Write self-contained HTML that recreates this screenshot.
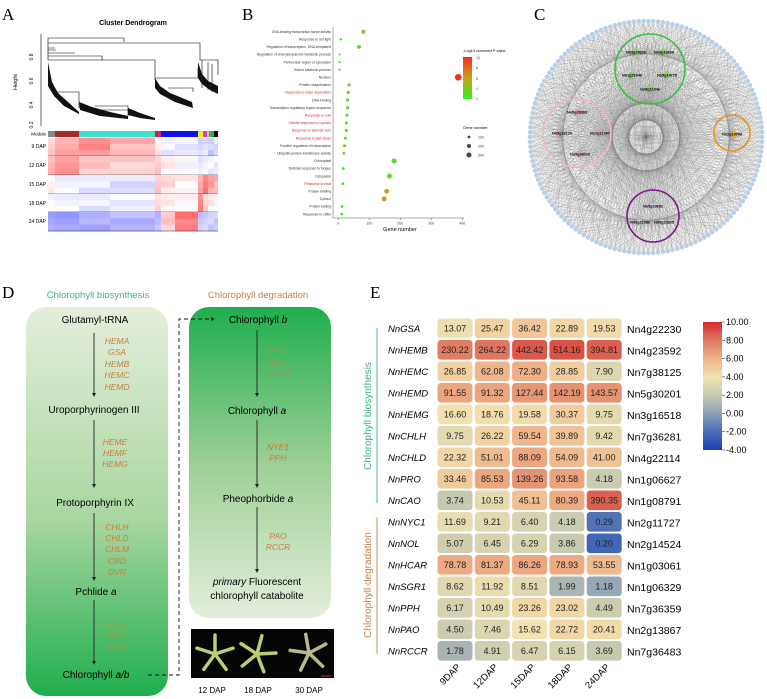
<!DOCTYPE html>
<html><head><meta charset="utf-8"><style>
html,body{margin:0;padding:0;background:#fff}
svg{display:block;font-family:"Liberation Sans",sans-serif}
</style></head><body>
<svg id="fig" width="767" height="699" viewBox="0 0 767 699">
<defs>
<linearGradient id="gL" x1="0" y1="0" x2="0" y2="1"><stop offset="0" stop-color="#e4eedb"/><stop offset="0.55" stop-color="#a8d6a0"/><stop offset="1" stop-color="#1fae4e"/></linearGradient>
<linearGradient id="gR" x1="0" y1="0" x2="0" y2="1"><stop offset="0" stop-color="#1fae4e"/><stop offset="0.5" stop-color="#9ccf95"/><stop offset="1" stop-color="#e4eedb"/></linearGradient>
<linearGradient id="gP" x1="0" y1="0" x2="0" y2="1"><stop offset="0" stop-color="#ff2a1a"/><stop offset="0.5" stop-color="#c8a020"/><stop offset="1" stop-color="#30f020"/></linearGradient>
<linearGradient id="gE" x1="0" y1="0" x2="0" y2="1"><stop offset="0" stop-color="#d42a2a"/><stop offset="0.14" stop-color="#e07860"/><stop offset="0.29" stop-color="#efb48a"/><stop offset="0.43" stop-color="#f2e2b0"/><stop offset="0.57" stop-color="#c8cbb0"/><stop offset="0.71" stop-color="#8fa2b8"/><stop offset="0.86" stop-color="#4b6cb8"/><stop offset="1" stop-color="#1a3fb5"/></linearGradient>
</defs>

<!-- Panel A -->
<g>
<text x="2" y="20" font-family="Liberation Serif" font-size="17">A</text>
<text x="133" y="25" font-size="7" font-weight="bold" text-anchor="middle">Cluster Dendrogram</text>
<line x1="41" y1="34" x2="41" y2="126" stroke="#000" stroke-width="0.6"/>
<g font-size="5">
<text transform="translate(33,57) rotate(-90)" text-anchor="middle">0.8</text>
<text transform="translate(33,81) rotate(-90)" text-anchor="middle">0.6</text>
<text transform="translate(33,105) rotate(-90)" text-anchor="middle">0.4</text>
<text transform="translate(33,125) rotate(-90)" text-anchor="middle">0.2</text>
</g>
<text transform="translate(17,82) rotate(-90)" font-size="5.5" text-anchor="middle">Height</text>
<g id="dendro" stroke="#000" stroke-width="0.6" fill="none">
<path d="M48 60V38H124V42M48 43H200V47M48 48H55M48 50H56M48 53H75M48 56H102V60M48 60H155V80M200 47V60H218V75"/>
<path d="M55 92H79V100M79 100V108M95 106H128M95 110H128M128 106V116M155 78H198V68M168 88H193V92M202 60V88M208 62V90M212 64V92"/>
</g>
<g fill="#111">
<path d="M48 62 L52 82 L58 93 L68 102 L79 112 L79 114 L64 106 L54 96 L48 86Z"/>
<path d="M79 102 L92 107 L110 112 L128 116 L128 119 L100 116 L80 110Z"/>
<path d="M128 108 L140 113 L155 118 L155 120 L140 118 L128 115Z"/>
<path d="M155 78 L160 86 L170 93 L192 102 L193 108 L175 102 L160 94 L155 88Z"/>
<path d="M198 62 L202 74 L208 81 L218 86 L218 94 L210 90 L202 84 L198 78Z"/>
</g>
<text x="46" y="135.5" font-size="4.5" text-anchor="end">Module</text>
<g id="modbar"></g>
<g id="ahm"></g>
<g font-size="5" text-anchor="end">
<text x="46" y="148">9 DAP</text><text x="46" y="167">12 DAP</text><text x="46" y="186">15 DAP</text><text x="46" y="205">18 DAP</text><text x="46" y="223">24 DAP</text>
</g>
</g>

<!-- Panel B -->
<g>
<text x="242" y="20" font-family="Liberation Serif" font-size="17">B</text>
<line x1="333" y1="27" x2="333" y2="218" stroke="#555" stroke-width="0.5"/>
<line x1="333" y1="218" x2="464" y2="218" stroke="#555" stroke-width="0.5"/>
<g id="bterms" font-size="3.4" text-anchor="end"></g>
<g id="bdots"></g>
<g id="bx" font-size="3.6" text-anchor="middle" fill="#444"></g>
<text x="400" y="231" font-size="5.5" text-anchor="middle">Gene number</text>
<text x="463" y="52" font-size="3.8">-Log10 corrected <tspan font-style="italic">P</tspan>-value</text>
<rect x="463" y="57" width="9" height="42" fill="url(#gP)"/>
<g font-size="3.6" fill="#444"><text x="476" y="59">10</text><text x="476" y="69">8</text><text x="476" y="80">6</text><text x="476" y="90">4</text><text x="476" y="100">2</text></g>
<text x="463" y="129" font-size="4">Gene number</text>
<g font-size="3.6" fill="#444">
<circle cx="469" cy="137" r="1.4"/><text x="478" y="138.5">100</text>
<circle cx="469" cy="146" r="2"/><text x="478" y="147.5">200</text>
<circle cx="469" cy="155" r="2.5"/><text x="478" y="156.5">300</text>
</g>
</g>

<!-- Panel C -->
<g>
<text x="534" y="20" font-family="Liberation Serif" font-size="17">C</text>
<g id="cedges" stroke="#777" stroke-width="0.25" stroke-opacity="0.55"></g>
<g id="cnodes" fill="#b8cfe6"></g>
<circle cx="650" cy="69" r="35" fill="none" stroke="#3cc03c" stroke-width="1.6"/>
<circle cx="577" cy="133" r="34" fill="none" stroke="#f0b8c0" stroke-width="1.6"/>
<circle cx="732" cy="133" r="18" fill="none" stroke="#ee9020" stroke-width="1.6"/>
<circle cx="653" cy="216" r="26" fill="none" stroke="#801880" stroke-width="1.6"/>
<g font-size="3.8" font-weight="bold" text-anchor="middle">
<circle cx="636" cy="52" r="3" fill="#8ad060"/><text x="636" y="53.5">Nn3g20326</text>
<circle cx="663" cy="52" r="3" fill="#8ad060"/><text x="664" y="53.5">Nn3g16698</text>
<circle cx="631" cy="75" r="3" fill="#8ad060"/><text x="632" y="76.5">Nn1g21946</text>
<circle cx="667" cy="75" r="3" fill="#8ad060"/><text x="667" y="76.5">Nn5g14775</text>
<circle cx="650" cy="89" r="3" fill="#8ad060"/><text x="650" y="90.5">Nn5g11946</text>
<circle cx="578" cy="112" r="3" fill="#e89ab0"/><text x="577" y="113.5">Nn5g28383</text>
<circle cx="558" cy="133" r="3" fill="#e89ab0"/><text x="562" y="134.5">Nn5g32129</text>
<circle cx="599" cy="133" r="3" fill="#e89ab0"/><text x="600" y="134.5">Nn2g11367</text>
<circle cx="580" cy="154" r="3" fill="#e89ab0"/><text x="580" y="155.5">Nn5g36020</text>
<circle cx="734" cy="134" r="3" fill="#e8b020"/><text x="732" y="135.5">Nn2g10988</text>
<circle cx="653" cy="206" r="3" fill="#c0c8e0"/><text x="653" y="207.5">Nn5g23682</text>
<circle cx="639" cy="222" r="3" fill="#c0c8e0"/><text x="640" y="223.5">Nn3g11086</text>
<circle cx="662" cy="222" r="3" fill="#c0c8e0"/><text x="664" y="223.5">Nn5g23305</text>
</g>
</g>

<!-- Panel D -->
<g>
<text x="2" y="298" font-family="Liberation Serif" font-size="17">D</text>
<text x="98" y="298" font-size="9.5" fill="#3cb47a" text-anchor="middle">Chlorophyll biosynthesis</text>
<text x="258" y="298" font-size="9.5" fill="#c8804a" text-anchor="middle">Chlorophyll degradation</text>
<rect x="26" y="307" width="142" height="389" rx="20" fill="url(#gL)"/>
<rect x="189" y="307" width="142" height="311" rx="20" fill="url(#gR)"/>
<g font-size="10" text-anchor="middle">
<text x="95" y="323">Glutamyl-tRNA</text>
<text x="94" y="413">Uroporphyrinogen III</text>
<text x="95" y="506">Protoporphyrin IX</text>
<text x="96" y="595">Pchlide <tspan font-style="italic">a</tspan></text>
<text x="96" y="678">Chlorophyll <tspan font-style="italic">a/b</tspan></text>
<text x="258" y="323">Chlorophyll <tspan font-style="italic">b</tspan></text>
<text x="257" y="414">Chlorophyll <tspan font-style="italic">a</tspan></text>
<text x="258" y="502">Pheophorbide <tspan font-style="italic">a</tspan></text>
<text x="257" y="585"><tspan font-style="italic">primary</tspan> Fluorescent</text>
<text x="257" y="599">chlorophyll catabolite</text>
</g>
<g stroke="#222" stroke-width="0.9">
<line x1="94" y1="333" x2="94" y2="394"/><line x1="94" y1="420" x2="94" y2="485"/><line x1="94" y1="513" x2="94" y2="578"/><line x1="94" y1="600" x2="94" y2="662"/>
<line x1="257" y1="330" x2="257" y2="394"/><line x1="257" y1="420" x2="257" y2="485"/><line x1="257" y1="507" x2="257" y2="570"/>
</g>
<g fill="#222">
<path d="M92 393L96 393L94 397Z"/><path d="M92 484L96 484L94 488Z"/><path d="M92 577L96 577L94 581Z"/><path d="M92 661L96 661L94 665Z"/>
<path d="M255 393L259 393L257 397Z"/><path d="M255 484L259 484L257 488Z"/><path d="M255 569L259 569L257 573Z"/>
<path d="M211 317L215 319L211 321Z"/>
</g>
<path d="M148 675H179V319H211" fill="none" stroke="#111" stroke-width="0.9" stroke-dasharray="4,3"/>
<g font-size="8.5" font-style="italic" fill="#c8803c" text-anchor="middle">
<text x="117" y="344">HEMA</text><text x="117" y="355">GSA</text><text x="117" y="367">HEMB</text><text x="117" y="378">HEMC</text><text x="117" y="390">HEMD</text>
<text x="115" y="445">HEME</text><text x="115" y="456">HEMF</text><text x="115" y="467">HEMG</text>
<text x="117" y="530">CHLH</text><text x="117" y="541">CHLD</text><text x="117" y="552">CHLM</text><text x="117" y="564">CRD</text><text x="117" y="575">DVR</text>
<text x="117" y="627" fill="#a8984a">POR</text><text x="117" y="638" fill="#a8984a">CHLG</text><text x="117" y="650" fill="#a8984a">CAO</text>
<text x="278" y="354" fill="#9a9850">NYC1</text><text x="278" y="365" fill="#9a9850">NOL</text><text x="278" y="376" fill="#9a9850">HCAR</text>
<text x="278" y="450">NYE1</text><text x="278" y="461">PPH</text>
<text x="278" y="539">PAO</text><text x="278" y="550">RCCR</text>
</g>
<rect x="191" y="629" width="143" height="49" fill="#050505"/>
<g id="stars"></g>
<line x1="321" y1="676" x2="331" y2="676" stroke="#e02020" stroke-width="1"/>
<g font-size="8" text-anchor="middle"><text x="212" y="693">12 DAP</text><text x="258" y="693">18 DAP</text><text x="309" y="693">30 DAP</text></g>
</g>

<!-- Panel E -->
<g>
<text x="370" y="298" font-family="Liberation Serif" font-size="17">E</text>
<line x1="377" y1="328" x2="377" y2="503" stroke="#3cb47a" stroke-width="0.9"/>
<line x1="377" y1="517" x2="377" y2="654" stroke="#c8804a" stroke-width="0.9"/>
<text transform="translate(371,416) rotate(-90)" font-size="10" fill="#3cb47a" text-anchor="middle">Chlorophyll biosynthesis</text>
<text transform="translate(371,585) rotate(-90)" font-size="10" fill="#c8804a" text-anchor="middle">Chlorophyll degradation</text>
<g id="ehm"></g>
<rect x="703" y="322" width="19" height="128" fill="url(#gE)"/>
<g id="ecb" font-size="9"></g>
</g>
</svg>

<script>
// ---------- Panel E data ----------
const genes = ["NnGSA","NnHEMB","NnHEMC","NnHEMD","NnHEMG","NnCHLH","NnCHLD","NnPRO","NnCAO","NnNYC1","NnNOL","NnHCAR","NnSGR1","NnPPH","NnPAO","NnRCCR"];
const geneIds = ["Nn4g22230","Nn4g23592","Nn7g38125","Nn5g30201","Nn3g16518","Nn7g36281","Nn4g22114","Nn1g06627","Nn1g08791","Nn2g11727","Nn2g14524","Nn1g03061","Nn1g06329","Nn7g36359","Nn2g13867","Nn7g36483"];
const stages = ["9DAP","12DAP","15DAP","18DAP","24DAP"];
const d9 = [13.07,230.22,26.85,91.55,16.60,9.75,22.32,33.46,3.74,11.69,5.07,78.78,8.62,6.17,4.50,1.78];
const d12 = [25.47,264.22,62.08,91.32,18.76,26.22,51.01,85.53,10.53,9.21,6.45,81.37,11.92,10.49,7.46,4.91];
const d15 = [36.42,442.42,72.30,127.44,19.58,59.54,88.09,139.26,45.11,6.40,6.29,86.26,8.51,23.26,15.62,6.47];
const d18 = [22.89,514.16,28.85,142.19,30.37,39.89,54.09,93.58,80.39,4.18,3.86,78.93,1.99,23.02,22.72,6.15];
const d24 = [19.53,394.81,7.90,143.57,9.75,9.42,41.00,4.18,390.35,0.29,0.20,53.55,1.18,4.49,20.41,3.69];
const cbTicks = [10,8,6,4,2,0,-2,-4];

// ---------- Panel B data ----------
const goTerms = ["DNA-binding transcription factor activity","Response to red light","Regulation of transcription, DNA-templated","Regulation of phenylpropanoid metabolic process","Perinuclear region of cytoplasm","Starch catabolic process","Nucleus","Protein ubiquitination","Response to water deprivation","DNA binding","Transcription regulatory region sequence","Response to cold","Cellular response to hypoxia","Response to abscisic acid","Response to salt stress","Positive regulation of transcription","Ubiquitin-protein transferase activity","Chloroplast","Defense response to fungus","Cytoplasm","Response to heat","Protein binding","Cytosol","Protein folding","Response to chitin"];
const goCounts = [81,8,67,4,4,4,387,35,32,30,30,28,26,26,23,20,18,180,16,165,15,156,148,12,11];
const goLogP = [3.6,2.5,3.4,2.2,2.2,2.2,10,3,3.4,3,3,3.4,3,3.2,3,2.8,2.8,3,2.6,3,2.6,6,6.4,2.6,2.6];
const goRed = [8,11,12,13,14,20];
const xTicks = [0,100,200,300,400];

const NS="http://www.w3.org/2000/svg";
function mk(tag, attrs, parent){const e=document.createElementNS(NS,tag);for(const k in attrs)e.setAttribute(k,attrs[k]);parent.appendChild(e);return e;}

// Panel E
const ex = i => 455 + i*37.3;
const ey = j => 328.3 + j*21.5;
const stops=[[-4,[26,63,181]],[-2,[75,108,184]],[0,[143,162,184]],[2,[200,203,176]],[4,[242,226,176]],[6,[239,180,138]],[8,[224,120,96]],[10,[212,42,42]]];
function ecol(v){let l=Math.log2(v);l=Math.max(-4,Math.min(10,l));for(let k=0;k<stops.length-1;k++){const a=stops[k],b=stops[k+1];if(l<=b[0]){const t=(l-a[0])/(b[0]-a[0]);const c=a[1].map((x,n)=>Math.round(x+(b[1][n]-x)*t));return "rgb("+c.join(",")+")";}}return "rgb(212,42,42)";}
const ehm=document.getElementById('ehm');
const cols=[d9,d12,d15,d18,d24];
genes.forEach((g,j)=>{
  const t=mk('text',{x:388,y:ey(j)+3.5,'font-size':9.5,'font-style':'italic'},ehm);
  
  
  t.textContent=g;
  const t2=mk('text',{x:627,y:ey(j)+4.5,'font-size':10.5},ehm);
  
  
  t2.textContent=geneIds[j];
  cols.forEach((arr,i)=>{
    const r=mk('rect',{x:ex(i)-17.5,y:ey(j)-9.8,width:35,height:19.6,rx:3.5,fill:ecol(arr[j])},ehm);
    
    
    const v=mk('text',{x:ex(i),y:ey(j)+3.3,'font-size':9,'text-anchor':'middle',fill:'#222'},ehm);
    
    
    v.textContent=arr[j].toFixed(2);
  });
});
stages.forEach((s,i)=>{
  const t=mk('text',{transform:"translate("+(ex(i)+6)+","+(ey(15)+17)+") rotate(-45)",'font-size':9.5,'text-anchor':'end'},ehm);
  
  
  t.textContent=s;
});
const ecb=document.getElementById('ecb');
cbTicks.forEach(v=>{
  const y=322+(10-v)/14*128;
  const l=mk('line',{x1:722,x2:725,y1:y,y2:y,stroke:'#333','stroke-width':0.6},ecb);
  
  
  const t=mk('text',{x:726,y:y+3},ecb);
  
  
  t.textContent=v.toFixed(2);
});

// Panel B
const bx = v => 338.3 + v*0.31;
const by = j => 31.7 + j*7.6;
const bterms=document.getElementById('bterms'), bdots=document.getElementById('bdots'), bxg=document.getElementById('bx');
function pcol(p){const t=Math.max(0,Math.min(1,(p-2)/8));let c;if(t<0.5){const u=t/0.5;c=[48+(200-48)*u,240+(160-240)*u,32];}else{const u=(t-0.5)/0.5;c=[200+55*u,160-118*u,32-6*u];}return "rgb("+c.map(Math.round).join(",")+")";}
goTerms.forEach((g,j)=>{
  const t=mk('text',{x:331,y:by(j)+1.2,fill:goRed.includes(j)?'#e02020':'#333'},bterms);
  
  
  t.textContent=g;
  const c=mk('circle',{cx:bx(goCounts[j]),cy:by(j),r:0.9+Math.sqrt(goCounts[j])*0.125,fill:pcol(goLogP[j])},bdots);
  
  
});
xTicks.forEach(v=>{
  const l=mk('line',{x1:bx(v),x2:bx(v),y1:218,y2:220,stroke:'#555','stroke-width':0.5},bxg);
  
  
  const t=mk('text',{x:bx(v),y:224.5},bxg);
  
  
  t.textContent=v;
});

// Panel A module bar & heatmap
const modSegs=[[48,55,'#8a8a8a'],[55,79,'#a52a2a'],[79,155,'#40e0d0'],[155,158,'#e02020'],[158,161,'#c03060'],[161,198,'#1010e8'],[198,203,'#f0f020'],[203,207,'#d040d0'],[207,209,'#f8a8c0'],[209,214,'#20c020'],[214,218,'#000']];
const modbar=document.getElementById('modbar');
modSegs.forEach(s=>{const r=mk('rect',{x:s[0],y:131,width:s[1]-s[0],height:6,fill:s[2]},modbar);
  
  });
const regions=[[48,55],[55,79],[79,110],[110,155],[155,161],[161,175],[175,198],[198,203],[203,208],[208,214],[214,218]];
const rows=[[138,156,[0.3,0.45,0.6,0.4,0.1,-0.1,-0.1,-0.2,-0.2,-0.3,-0.2]],[156,175,[0.45,0.55,0.3,0.25,0.3,0.1,0,-0.1,-0.1,-0.1,-0.1]],[175,194,[0.1,-0.1,-0.15,-0.2,0.3,0.2,0.1,0.5,0.7,0.5,0.4]],[194,212,[0,-0.1,-0.15,-0.1,0.2,0.1,0.05,0.7,0.2,0.1,0]],[212,231,[-0.5,-0.6,-0.5,-0.45,-0.4,0.3,0.75,-0.3,-0.3,-0.3,-0.3]]];
const ahm=document.getElementById('ahm');
function acol(v,k){v=v+((k*37)%7-3)*0.03;v=Math.max(-1,Math.min(1,v));return v>=0?"rgb(255,"+Math.round(255-180*v)+","+Math.round(255-180*v)+")":"rgb("+Math.round(255+170*v)+","+Math.round(255+170*v)+",255)";}
rows.forEach(r=>{regions.forEach((g,k)=>{for(let s=0;s<3;s++){const h=(r[1]-r[0])/3;const e=mk('rect',{x:g[0],y:r[0]+s*h,width:g[1]-g[0],height:h+0.3,fill:acol(r[2][k],k+s)},ahm);
  
  }});
  const l=mk('line',{x1:48,x2:218,y1:r[1],y2:r[1],stroke:'#223',"stroke-width":0.6},ahm);
  
  });

// Panel C network
const cx=646,cy=137,R=116,N=150,pts=[];
for(let i=0;i<N;i++){const a=i/N*2*Math.PI;pts.push([cx+R*Math.cos(a),cy+R*Math.sin(a)]);}
const hubs=[[636,52],[663,52],[631,75],[667,75],[650,89],[578,112],[558,133],[599,133],[580,154],[734,134],[653,206],[639,222],[662,222]];
const ce=document.getElementById('cedges');
for(let i=0;i<N;i++){hubs.forEach((h,k)=>{if((i*7+k*3)%4===0){const l=mk('line',{x1:pts[i][0],y1:pts[i][1],x2:h[0],y2:h[1]},ce);
  
  }});}
for(let i=0;i<N;i++){[37,61,75,68].forEach(o=>{if(o===75&&i%2)return;const j=(i+o)%N;const l=mk('line',{x1:pts[i][0],y1:pts[i][1],x2:pts[j][0],y2:pts[j][1]},ce);
  
  });}
const cn=document.getElementById('cnodes');
pts.forEach(p=>{const c=mk('circle',{cx:p[0],cy:p[1],r:2.3},cn);
  
  });

// seedling stars
const st=document.getElementById('stars');
[[215,654,0],[257,654,15],[309,653,-10]].forEach((s,n)=>{for(let k=0;k<5;k++){const a=(k*72+s[2]-90)*Math.PI/180;const x2=s[0]+19*Math.cos(a),y2=s[1]+19*Math.sin(a);
  const l=mk('line',{x1:s[0],y1:s[1],x2:x2,y2:y2,stroke:n===2?'#b8b890':'#b8d070','stroke-width':3.5,'stroke-linecap':'round'},st);
  
  }});
</script>
</body></html>
